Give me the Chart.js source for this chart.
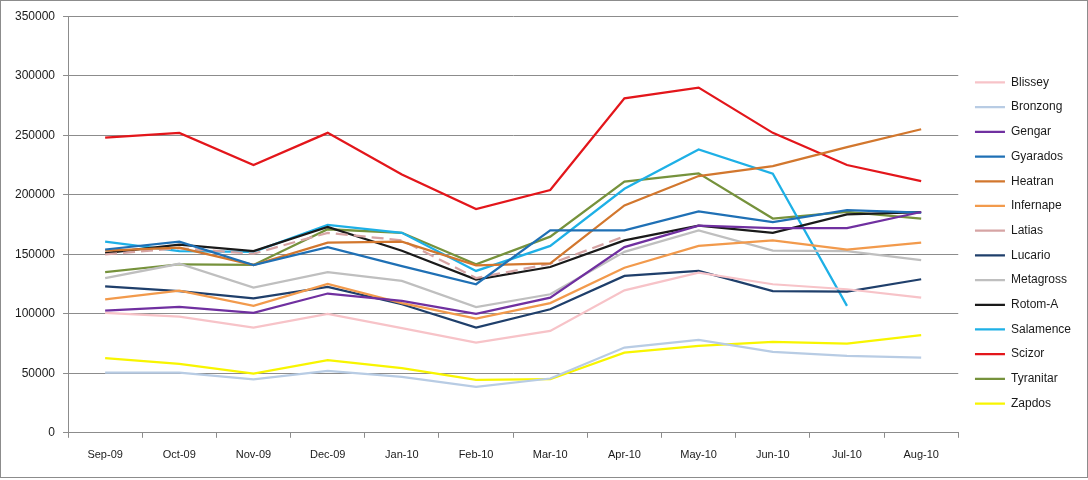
<!DOCTYPE html>
<html>
<head>
<meta charset="utf-8">
<script src="https://cdn.jsdelivr.net/npm/chart.js@4/dist/chart.umd.min.js"></script>
<style>
	html, body { margin: 0; padding: 0; background: #fff; }
	#box { position: absolute; left: 0; top: 0; width: 1086px; height: 476px; border: 1px solid #8c8c8c; }
</style>
</head>
<body>
<div id="box"><canvas id="chart" width="1086" height="476"></canvas></div>
<script>
var months = ['Sep-09', 'Oct-09', 'Nov-09', 'Dec-09', 'Jan-10', 'Feb-10', 'Mar-10', 'Apr-10', 'May-10', 'Jun-10', 'Jul-10', 'Aug-10'];
var yTicks = [0, 50000, 100000, 150000, 200000, 250000, 300000, 350000];

var blissey   = [100700, 97600, 88400, 100000, 88000, 75800, 85600, 119700, 134500, 124800, 120600, 113600];
var bronzong  = [50600, 50600, 44800, 52000, 47000, 38600, 45600, 71600, 78000, 68000, 64600, 63200];
var gengar    = [102700, 105700, 100700, 117000, 110800, 100000, 113600, 156000, 174000, 172000, 172000, 185500];
var gyarados  = [154000, 160600, 141000, 156000, 140000, 124800, 170000, 170000, 186000, 177000, 187000, 185000];
var heatran   = [153000, 155500, 141000, 159700, 160600, 140700, 142400, 191000, 215700, 224000, 240000, 255000];
var infernape = [112000, 119500, 106600, 125000, 109000, 96000, 109000, 138700, 157000, 161700, 154000, 159700];
var latias    = [150000, 155000, 150500, 168000, 161700, 130000, 142000, 165000, null, null, null, null];
var lucario   = [123000, 119000, 113000, 122500, 108000, 88400, 103800, 131800, 136000, 119000, 118600, 129000];
var metagross = [130000, 142000, 122000, 135000, 127600, 105700, 116400, 152000, 170000, 153000, 152700, 145000];
var rotomA    = [151000, 158000, 152700, 173000, 153000, 128700, 139300, 161700, 174000, 168000, 183500, 185500];
var salamence = [160600, 152700, 152000, 174600, 168000, 136000, 157000, 205000, 238000, 217600, 106600, null];
var scizor    = [248000, 252000, 225000, 252000, 217000, 188000, 204000, 281000, 290000, 252000, 225000, 211500];
var tyranitar = [135000, 141600, 141000, 171000, 168000, 141600, 164800, 211000, 218000, 180000, 185500, 180000];
var zapdos    = [62700, 58000, 49800, 61000, 54300, 44500, 45000, 67400, 73000, 76400, 75000, 82000];

function line(name, values, color, dash){
	return {
		label: name,
		data: values,
		borderColor: color,
		backgroundColor: color,
		borderWidth: 2.25,
		borderDash: dash || [],
		pointRadius: 0,
		pointHoverRadius: 0,
		tension: 0,
		fill: false,
		spanGaps: false
	};
}

var datasets = [
	line('Blissey', blissey, '#f7c3c8'),
	line('Bronzong', bronzong, '#b8cce4'),
	line('Gengar', gengar, '#7030a0'),
	line('Gyarados', gyarados, '#1f70b5'),
	line('Heatran', heatran, '#d2772e'),
	line('Infernape', infernape, '#f29a4c'),
	line('Latias', latias, '#d6a4a4', [12, 6]),
	line('Lucario', lucario, '#1f3f6b'),
	line('Metagross', metagross, '#bfbfbf'),
	line('Rotom-A', rotomA, '#1a1a1a'),
	line('Salamence', salamence, '#1eb0e6'),
	line('Scizor', scizor, '#e3161b'),
	line('Tyranitar', tyranitar, '#76923c'),
	line('Zapdos', zapdos, '#f8f500')
];

// nudge the legend a bit away from the plot, like the original
var legendNudge = {
	id: 'legendNudge',
	afterLayout: function(chart){
		var lg = chart.legend;
		lg.left += 4;
		lg.right += 4;
		lg.top += 3;
		lg.bottom += 3;
	}
};

Chart.defaults.font.family = '"Liberation Sans", Arial, sans-serif';
Chart.defaults.font.size = 11;
Chart.defaults.color = '#1a1a1a';

var chart = new Chart(document.getElementById('chart'), {
	type: 'line',
	data: {
		labels: months,
		datasets: datasets
	},
	plugins: [legendNudge],
	options: {
		responsive: false,
		animation: false,
		layout: {
			padding: { top: 6, right: 10, bottom: 4, left: 6 }
		},
		plugins: {
			tooltip: { enabled: false },
			legend: {
				position: 'right',
				labels: {
					usePointStyle: true,
					pointStyle: 'line',
					pointStyleWidth: 30,
					boxHeight: 10,
					padding: 12.7,
					color: '#1a1a1a',
					font: { size: 12 }
				}
			}
		},
		scales: {
			x: {
				offset: true,
				grid: {
					offset: true,
					drawOnChartArea: false,
					drawTicks: true,
					tickLength: 5,
					color: '#8c8c8c'
				},
				border: { color: '#8c8c8c', width: 1 },
				ticks: { padding: 11, maxRotation: 0, autoSkip: false }
			},
			y: {
				min: 0,
				max: 350000,
				afterBuildTicks: function(axis){
					axis.ticks = yTicks.map(function(v){ return { value: v }; });
				},
				grid: {
					color: '#8c8c8c',
					tickLength: 5
				},
				border: { color: '#8c8c8c', width: 1 },
				ticks: {
					padding: 8,
					font: { size: 12 },
					callback: function(value){ return String(value); }
				}
			}
		}
	}
});
</script>
</body>
</html>
